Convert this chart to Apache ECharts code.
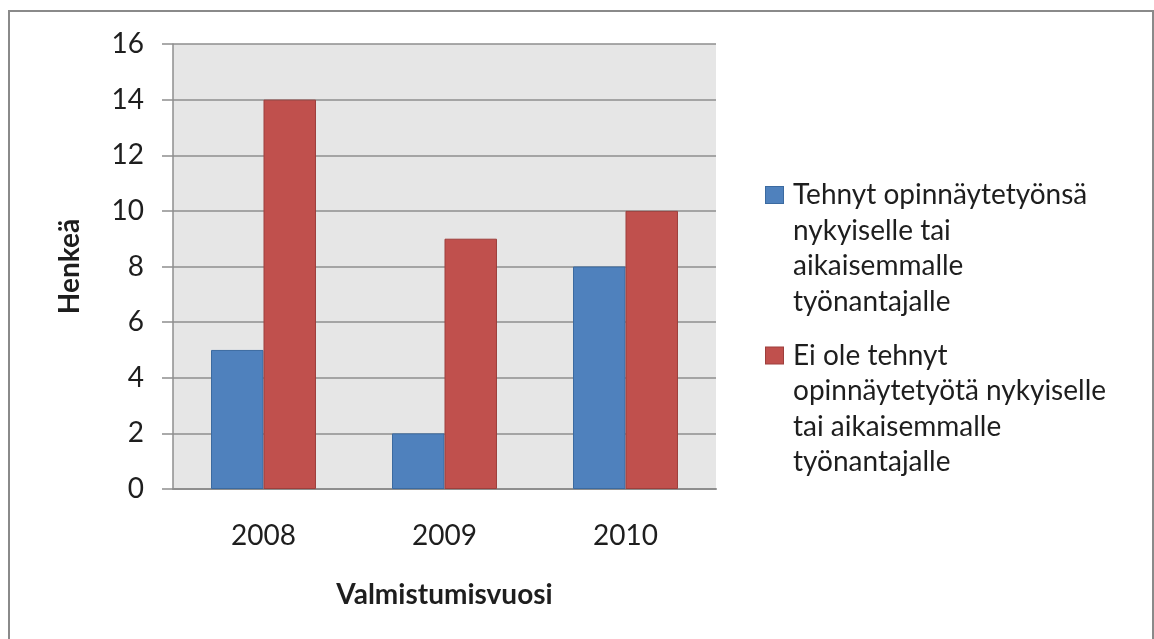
<!DOCTYPE html>
<html>
<head>
<meta charset="utf-8">
<script src="https://cdn.jsdelivr.net/npm/echarts@6/dist/echarts.min.js"></script>
<style>
  html, body { margin: 0; padding: 0; background: #fff; }
  #main { width: 1154px; height: 639px; }
</style>
</head>
<body>
<div id="main"></div>
<script>
let years = ['2008', '2009', '2010'];
let tehnyt = [5, 2, 8];
let eiOle = [14, 9, 10];
let yTicks = [0, 2, 4, 6, 8, 10, 12, 14, 16];
let seriesNames = [
  'Tehnyt opinnäytetyönsä nykyiselle tai aikaisemmalle työnantajalle',
  'Ei ole tehnyt opinnäytetyötä nykyiselle tai aikaisemmalle työnantajalle'
];
// legend lines as wrapped in the picture
let legendLines = {};
legendLines[seriesNames[0]] = ['Tehnyt opinnäytetyönsä', 'nykyiselle tai', 'aikaisemmalle', 'työnantajalle'];
legendLines[seriesNames[1]] = ['Ei ole tehnyt', 'opinnäytetyötä nykyiselle', 'tai aikaisemmalle', 'työnantajalle'];

let chartDom = document.getElementById('main');
let myChart = echarts.init(chartDom);

let font = 'Lato';
let fs = 28;
let txt = '#1e1e1e';
let gridCol = '#8e8e8e';

let option = {
  backgroundColor: '#fff',
  animation: false,
  textStyle: { fontFamily: font },
  graphic: [
    {
      type: 'rect',
      shape: { x: 9, y: 11, width: 1144, height: 640 },
      style: { fill: 'none', stroke: '#8a8a8a', lineWidth: 2 },
      silent: true
    }
  ],
  grid: {
    left: 173, top: 44, right: 438, bottom: 150,
    show: true, backgroundColor: '#e6e6e6', borderWidth: 0
  },
  legend: {
    orient: 'vertical',
    left: 756,
    top: 176,
    icon: 'none',
    itemWidth: 0,
    itemHeight: 0,
    itemGap: 26,
    data: seriesNames,
    formatter: function (name) {
      let idx = seriesNames.indexOf(name);
      let lines = legendLines[name];
      let out = '{' + (idx === 0 ? 'sa' : 'sb') + '|}{gap|}{t|' + lines[0] + '}';
      for (let i = 1; i < lines.length; i++) {
        out += '\n{pad|}{t|' + lines[i] + '}';
      }
      return out;
    },
    textStyle: {
      rich: {
        sa: { width: 17, height: 16, backgroundColor: '#4f81bd', borderColor: '#3b6aa0', borderWidth: 1, verticalAlign: 'middle' },
        sb: { width: 17, height: 16, backgroundColor: '#c0504d', borderColor: '#9d3f3c', borderWidth: 1, verticalAlign: 'middle' },
        gap: { width: 10 },
        pad: { width: 27 },
        t: { fontFamily: font, fontSize: fs, color: txt, lineHeight: 35.5 }
      }
    }
  },
  xAxis: {
    type: 'category',
    data: years,
    name: 'Valmistumisvuosi',
    nameLocation: 'middle',
    nameGap: 92,
    nameTextStyle: { fontFamily: font, fontSize: fs, fontWeight: 'bold', color: txt },
    axisLine: { lineStyle: { color: gridCol, width: 2 } },
    axisTick: { show: false },
    axisLabel: { margin: 33, fontSize: fs, color: txt, fontFamily: font }
  },
  yAxis: {
    type: 'value',
    min: yTicks[0],
    max: yTicks[yTicks.length - 1],
    interval: 2,
    name: 'Henkeä',
    nameLocation: 'middle',
    nameGap: 89,
    nameTextStyle: { fontFamily: font, fontSize: fs, fontWeight: 'bold', color: txt },
    axisLine: { show: true, lineStyle: { color: gridCol, width: 1.5 } },
    axisTick: { show: true, inside: false, length: 11, lineStyle: { color: gridCol, width: 1.5 } },
    axisLabel: { margin: 29, fontSize: fs, color: txt, fontFamily: font },
    splitLine: { show: true, lineStyle: { color: gridCol, width: 1.5 } }
  },
  series: [
    {
      name: seriesNames[0],
      type: 'bar',
      barGap: 0,
      barCategoryGap: '42%',
      data: tehnyt,
      itemStyle: { color: '#4f81bd', borderColor: '#3b6aa0', borderWidth: 1 }
    },
    {
      name: seriesNames[1],
      type: 'bar',
      barGap: 0,
      barCategoryGap: '42%',
      data: eiOle,
      itemStyle: { color: '#c0504d', borderColor: '#9d3f3c', borderWidth: 1 }
    }
  ]
};

option && myChart.setOption(option);
</script>
</body>
</html>
